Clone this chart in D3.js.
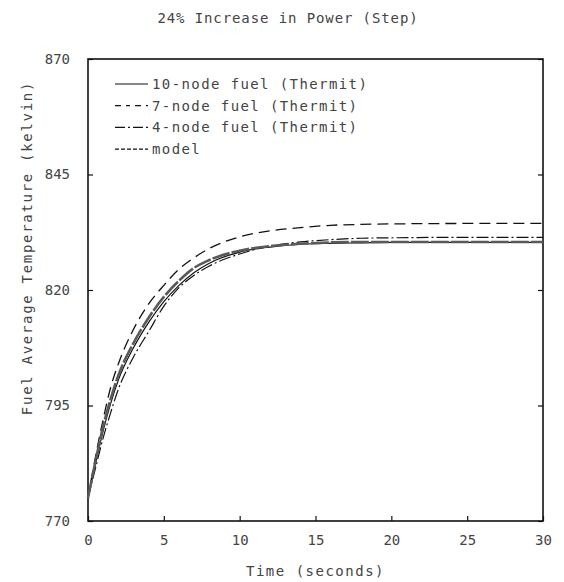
<!DOCTYPE html>

<html lang="en">

<head>

	<title>24% Increase in Power (Step)</title>
	<meta charset="utf-8">

	<script src="https://d3js.org/d3.v7.min.js"></script>
	<style type="text/css">
		/* Base elements */

		body {
			margin: 0;
			background: #fff;
		}

		svg text {
			font-family: "DejaVu Sans Mono", "Liberation Mono", monospace;
			font-size: 14px;
			fill: #444;
		}

		/* Axes */

		.tick line {
			stroke: #111;
			stroke-width: 1.2;
		}

		path.domain {
			display: none;
		}

		.frame {
			fill: none;
			stroke: #111;
			stroke-width: 1.6;
		}

		/* Chart */

		.series {
			fill: none;
		}
	</style>

</head>

<body>

	<div id="vis"></div>

	<script type="text/javascript">

		/* Data */
		/* ==== */

		var times = [0, 0.5, 1, 1.5, 2, 3, 4, 5, 6, 7, 8, 10, 12, 14, 16, 18, 20, 25, 30];

		var node10 = [775, 782.5, 789.5, 795.5, 800.5, 807.5, 813, 817.5, 821, 823.8, 825.8, 828.2, 829.3, 829.9, 830.1, 830.2, 830.3, 830.3, 830.3];
		var node7 = [775, 784, 792, 799, 804, 811.5, 817, 821, 824.5, 827, 829, 831.5, 832.8, 833.5, 834, 834.2, 834.3, 834.4, 834.4];
		var node4 = [775, 781.5, 788, 793.5, 798.5, 805.5, 811, 816.5, 820.5, 823.2, 825.2, 827.8, 829.5, 830.4, 830.9, 831.2, 831.3, 831.4, 831.4];
		var model = [775, 783, 790.5, 796.5, 801.5, 808.5, 814, 818.5, 822, 824.8, 826.5, 828.5, 829.5, 830, 830.3, 830.4, 830.4, 830.4, 830.4];

		var seriesNames = ['10-node fuel (Thermit)', '7-node fuel (Thermit)', '4-node fuel (Thermit)', 'model'];

		var xTicks = [0, 5, 10, 15, 20, 25, 30];
		var yTicks = [770, 795, 820, 845, 870];


		function make() {

			/* Set up */
			/* ====== */

			var width = 564;
			var height = 582;

			var margin = { top: 59, left: 88, bottom: 61, right: 21 };

			var chartWidth = width - margin.left - margin.right;
			var chartHeight = height - margin.top - margin.bottom;

			var svg = d3.select('#vis')
				.append('svg')
				.attr('width', width)
				.attr('height', height);

			var chart = svg.append('g')
				.attr('transform', 'translate(' + margin.left + ', ' + margin.top + ')');


			/* Scales */
			/* ====== */

			var xScale = d3.scaleLinear()
				.domain([0, 30])
				.range([0, chartWidth]);

			var yScale = d3.scaleLinear()
				.domain([770, 870])
				.range([chartHeight, 0]);


			/* Axes */
			/* ==== */

			var xAxis = d3.axisBottom(xScale)
				.tickValues(xTicks)
				.tickSizeInner(-5)
				.tickSizeOuter(0)
				.tickPadding(14)
				.tickFormat(d3.format('d'));

			var yAxis = d3.axisLeft(yScale)
				.tickValues(yTicks)
				.tickSizeInner(-5)
				.tickSizeOuter(0)
				.tickPadding(18)
				.tickFormat(d3.format('d'));

			var yAxisRight = d3.axisRight(yScale)
				.tickValues(yTicks)
				.tickSizeInner(-5)
				.tickSizeOuter(0)
				.tickFormat('');

			chart.append('g')
				.attr('class', 'x axis')
				.attr('transform', 'translate(0, ' + chartHeight + ')')
				.call(xAxis);

			chart.append('g')
				.attr('class', 'y axis')
				.call(yAxis);

			chart.append('g')
				.attr('class', 'y axis right')
				.attr('transform', 'translate(' + chartWidth + ', 0)')
				.call(yAxisRight);

			chart.append('rect')
				.attr('class', 'frame')
				.attr('width', chartWidth)
				.attr('height', chartHeight);


			/* Lines */
			/* ===== */

			var series = [
				{ name: seriesNames[0], values: node10, dash: null, width: 1.2, color: '#111' },
				{ name: seriesNames[1], values: node7, dash: '11,6', width: 1.3, color: '#111' },
				{ name: seriesNames[2], values: node4, dash: '12,3,2,3', width: 1.2, color: '#111' },
				{ name: seriesNames[3], values: model, dash: '18,2', width: 2.6, color: '#5a5a5a' }
			];

			var line = d3.line()
				.curve(d3.curveMonotoneX)
				.x(function (d, i) { return xScale(times[i]); })
				.y(function (d) { return yScale(d); });

			chart.selectAll('.series')
				.data(series).enter()
				.append('path')
				.attr('class', 'series')
				.attr('d', function (d) { return line(d.values); })
				.style('stroke', function (d) { return d.color; })
				.style('stroke-width', function (d) { return d.width; })
				.style('stroke-dasharray', function (d) { return d.dash; });


			/* Legend */
			/* ====== */

			var legend = chart.append('g')
				.attr('transform', 'translate(27, 25)');

			var rows = legend.selectAll('.row')
				.data(series).enter()
				.append('g')
				.attr('class', 'row')
				.attr('transform', function (d, i) { return 'translate(0, ' + (i * 21.7) + ')'; });

			rows.append('line')
				.attr('x1', 0)
				.attr('x2', 33)
				.style('stroke', '#111')
				.style('stroke-width', 1.2)
				.style('stroke-dasharray', function (d, i) { return ['', '6,5,4,5', '10,3,2,3', '4,2'][i]; });

			rows.append('text')
				.attr('x', 37)
				.attr('dy', '0.35em')
				.style('letter-spacing', '1.4px')
				.text(function (d) { return d.name; });


			/* Titles */
			/* ====== */

			svg.append('text')
				.attr('x', 288)
				.attr('y', 18)
				.attr('dy', '0.35em')
				.attr('text-anchor', 'middle')
				.style('letter-spacing', '0.9px')
				.text('24% Increase in Power (Step)');

			svg.append('text')
				.attr('x', margin.left + chartWidth / 2)
				.attr('y', 571)
				.attr('dy', '0.35em')
				.attr('text-anchor', 'middle')
				.style('letter-spacing', '1.5px')
				.text('Time (seconds)');

			svg.append('text')
				.attr('transform', 'translate(27, 248) rotate(-90)')
				.attr('dy', '0.35em')
				.attr('text-anchor', 'middle')
				.style('letter-spacing', '1.7px')
				.text('Fuel Average Temperature (kelvin)');

		} // make()


		make();

	</script>

</body>

</html>
